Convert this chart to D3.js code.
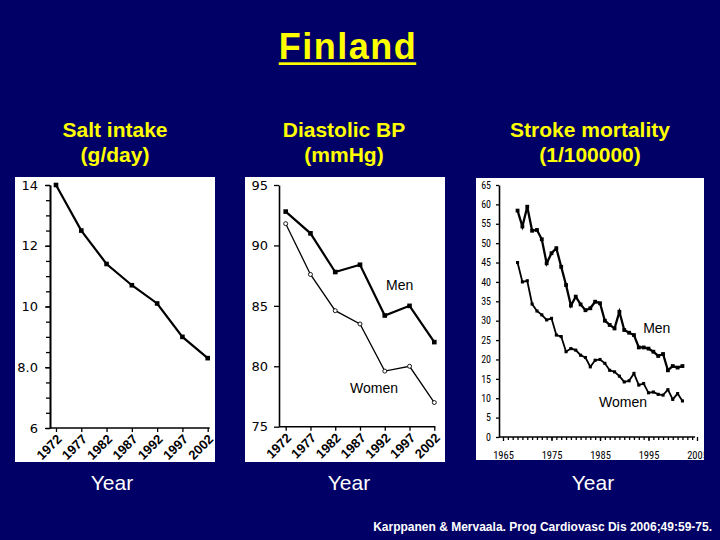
<!DOCTYPE html>
<html><head><meta charset="utf-8">
<script src="https://cdn.jsdelivr.net/npm/d3@7"></script>
<style>html,body{margin:0;padding:0;background:#000066;}svg{display:block;}</style>
</head><body>
<svg id="c" width="720" height="540"></svg>
<script>
// ---------- DATA ----------
const title = "Finland";
const subtitles = [["Salt intake","(g/day)"],["Diastolic BP","(mmHg)"],["Stroke mortality","(1/100000)"]];
const xTitle = "Year";
const citation = "Karppanen & Mervaala. Prog Cardiovasc Dis 2006;49:59-75.";

const years = [1972,1977,1982,1987,1992,1997,2002];
const saltIntake = [14.0,12.5,11.4,10.7,10.1,9.0,8.3];
const saltTicks = [6,8,10,12,14];
const saltTickLabels = ["6","8.0","10","12","14"];

const dbpMen = [92.8,91.0,87.8,88.4,84.2,85.0,82.0];
const dbpWomen = [91.8,87.6,84.6,83.5,79.6,80.0,77.0];
const dbpTicks = [75,80,85,90,95];

const strokeYears = [1968,1969,1970,1971,1972,1973,1974,1975,1976,1977,1978,1979,1980,1981,1982,1983,1984,1985,1986,1987,1988,1989,1990,1991,1992,1993,1994,1995,1996,1997,1998,1999,2000,2001,2002];
const strokeMen = [58.4,54.3,59.4,53.2,53.4,51.0,44.8,47.4,48.7,43.9,39.2,33.9,36.2,34.2,32.7,33.2,34.9,34.5,30.0,28.9,28.0,32.3,27.6,26.9,26.3,23.1,23.1,22.8,22.0,20.9,21.4,17.2,18.3,17.9,18.3];
const strokeWomen = [45.0,40.0,40.3,34.3,32.5,31.5,30.2,30.6,26.3,25.9,22.0,22.8,22.4,21.1,20.5,18.1,19.8,20.0,19.0,17.2,16.8,15.7,14.2,14.5,16.4,13.4,13.8,11.4,11.6,11.0,10.8,12.2,9.7,11.2,9.3];
const strokeTicks = [0,5,10,15,20,25,30,35,40,45,50,55,60,65];
const strokeYearTicks = [1965,1975,1985,1995,2005];
const seriesNames = ["Men","Women"];

// ---------- LAYOUT ----------
const NAVY = "#000066", YELLOW = "#ffff00";
const FONT = "'Liberation Sans', Arial, Helvetica, sans-serif";
const TICKFONT = "'DejaVu Sans', Verdana, sans-serif";
const NARROW = "'Liberation Sans Narrow', 'Arial Narrow', 'Roboto Condensed', sans-serif";

const svg = d3.select("#c");
svg.append("rect").attr("width",720).attr("height",540).attr("fill",NAVY);

// title
const t = svg.append("text").attr("x",348).attr("y",59).attr("text-anchor","middle")
  .attr("font-family",FONT).attr("font-size",36).attr("font-weight","bold")
  .attr("letter-spacing",1.5).attr("fill",YELLOW).text(title);
const tb = t.node().getBBox();
svg.append("rect").attr("x",tb.x).attr("y",62.3).attr("width",tb.width-1).attr("height",2.7).attr("fill",YELLOW);

// subtitles
const subCenters = [115,344,590];
subtitles.forEach((s,i)=>{
  s.forEach((line,j)=>{
    svg.append("text").attr("x",subCenters[i]).attr("y",137+j*24.5).attr("text-anchor","middle")
      .attr("font-family",FONT).attr("font-size",21).attr("font-weight","bold").attr("fill",YELLOW).text(line);
  });
});

// Year labels
[112,349,593].forEach(cx=>{
  svg.append("text").attr("x",cx).attr("y",490).attr("text-anchor","middle")
    .attr("font-family",FONT).attr("font-size",21).attr("fill","#ffffff").text(xTitle);
});

// citation
svg.append("text").attr("x",712).attr("y",531).attr("text-anchor","end")
  .attr("font-family",FONT).attr("font-size",12).attr("font-weight","bold").attr("fill","#ffffff").text(citation);

// panels
const panels = [{x:15,y:177,w:200,h:285},{x:245,y:177,w:200,h:285},{x:476,y:178,w:228,h:282}];
panels.forEach(p=>svg.append("rect").attr("x",p.x).attr("y",p.y).attr("width",p.w).attr("height",p.h).attr("fill","#ffffff"));

function styleAxis(g, font, size, weight){
  g.selectAll("path.domain").attr("stroke","#000").attr("stroke-width",1.6);
  g.selectAll(".tick line").attr("stroke","#000").attr("stroke-width",1.3);
  g.selectAll(".tick text").attr("fill","#000").attr("font-family",font).attr("font-size",size)
    .attr("font-weight",weight||"normal");
}
function rotateLabels(g){
  g.selectAll(".tick text").attr("x",0).attr("y",0).attr("dy",0)
    .attr("text-anchor","end").attr("transform","translate(6,12) rotate(-45)");
}

// ---------- Panel 1: Salt ----------
{
  const g = svg.append("g");
  const x = d3.scaleLinear().domain([1972,2002]).range([56,207.7]);
  const y = d3.scaleLinear().domain([6,14]).range([428,185]);
  const ax = 50;
  g.append("g").attr("transform",`translate(${ax},0)`)
    .call(d3.axisLeft(y).tickValues(d3.range(6,14.01,0.5)).tickFormat("").tickSize(4).tickSizeOuter(0))
    .call(a=>styleAxis(a,TICKFONT,13));
  g.append("g").attr("transform",`translate(${ax},0)`)
    .call(d3.axisLeft(y).tickValues(saltTicks).tickFormat((d,i)=>saltTickLabels[i]).tickSize(5).tickPadding(7).tickSizeOuter(0))
    .call(a=>styleAxis(a,TICKFONT,13));
  const xa = g.append("g").attr("transform",`translate(0,${y(6)})`)
    .call(d3.axisBottom(x).tickValues(years).tickFormat(d3.format("d")).tickSize(4).tickSizeOuter(0))
    .call(a=>styleAxis(a,FONT,13,"bold")).call(rotateLabels);
  xa.select("path.domain").remove();
  g.append("line").attr("x1",ax).attr("x2",x(2002)+2).attr("y1",y(6)).attr("y2",y(6)).attr("stroke","#000").attr("stroke-width",1.6);
  g.append("path").datum(saltIntake).attr("fill","none").attr("stroke","#000").attr("stroke-width",2.2)
    .attr("d",d3.line().x((d,i)=>x(years[i])).y(d=>y(d)));
  g.selectAll("rect.m").data(saltIntake).join("rect").attr("class","m")
    .attr("x",(d,i)=>x(years[i])-2.3).attr("y",d=>y(d)-2.3).attr("width",4.6).attr("height",4.6).attr("fill","#000");
}

// ---------- Panel 2: Diastolic BP ----------
{
  const g = svg.append("g");
  const x = d3.scaleLinear().domain([1972,2002]).range([285.7,434.3]);
  const y = d3.scaleLinear().domain([75,95]).range([426.7,185]);
  const ax = 279;
  g.append("g").attr("transform",`translate(${ax},0)`)
    .call(d3.axisLeft(y).tickValues(dbpTicks).tickFormat(d3.format("d")).tickSize(5).tickPadding(6).tickSizeOuter(0))
    .call(a=>styleAxis(a,TICKFONT,13));
  const xa = g.append("g").attr("transform",`translate(0,${y(75)})`)
    .call(d3.axisBottom(x).tickValues(years).tickFormat(d3.format("d")).tickSize(4).tickSizeOuter(0))
    .call(a=>styleAxis(a,FONT,13,"bold")).call(rotateLabels);
  xa.select("path.domain").remove();
  g.append("line").attr("x1",ax).attr("x2",x(2002)+1).attr("y1",y(75)).attr("y2",y(75)).attr("stroke","#000").attr("stroke-width",1.6);
  const line = d3.line().x((d,i)=>x(years[i])).y(d=>y(d));
  g.append("path").datum(dbpWomen).attr("fill","none").attr("stroke","#000").attr("stroke-width",1.3).attr("d",line);
  g.append("path").datum(dbpMen).attr("fill","none").attr("stroke","#000").attr("stroke-width",2.2).attr("d",line);
  g.selectAll("rect.m").data(dbpMen).join("rect").attr("class","m")
    .attr("x",(d,i)=>x(years[i])-2.3).attr("y",d=>y(d)-2.3).attr("width",4.6).attr("height",4.6).attr("fill","#000");
  g.selectAll("circle.w").data(dbpWomen).join("circle").attr("class","w")
    .attr("cx",(d,i)=>x(years[i])).attr("cy",d=>y(d)).attr("r",2).attr("fill","#fff").attr("stroke","#000").attr("stroke-width",0.9);
  const lab = [[1992.25,86.3],[1985.0,77.8]];
  seriesNames.forEach((n,i)=>g.append("text").attr("x",x(lab[i][0])).attr("y",y(lab[i][1]))
    .attr("font-family",FONT).attr("font-size",14).attr("fill","#000").text(n));
}

// ---------- Panel 3: Stroke mortality ----------
{
  const p = panels[2];
  svg.append("clipPath").attr("id","clip3").append("rect").attr("x",p.x).attr("y",p.y).attr("width",p.w).attr("height",p.h);
  const g = svg.append("g").attr("clip-path","url(#clip3)");
  const x = d3.scaleLinear().domain([1965,2005]).range([503,697]);
  const y = d3.scaleLinear().domain([0,65]).range([437,185]);
  const ax = 499;
  g.append("g").attr("transform",`translate(${ax},0)`)
    .call(d3.axisLeft(y).tickValues(strokeTicks).tickFormat(d3.format("d")).tickSize(3).tickPadding(5).tickSizeOuter(0))
    .call(a=>styleAxis(a,NARROW,10));
  g.append("g").attr("transform",`translate(0,${y(0)})`)
    .call(d3.axisBottom(x).tickValues(d3.range(1966,2005,1)).tickFormat("").tickSize(3).tickSizeOuter(0))
    .call(a=>styleAxis(a,NARROW,10))
    .select("path.domain").remove();
  const xa = g.append("g").attr("transform",`translate(0,${y(0)})`)
    .call(d3.axisBottom(x).tickValues(strokeYearTicks).tickFormat(d3.format("d")).tickSize(4).tickPadding(11).tickSizeOuter(0))
    .call(a=>styleAxis(a,NARROW,10.5));
  xa.select("path.domain").remove();
  g.append("line").attr("x1",ax).attr("x2",x(2004.6)).attr("y1",y(0)).attr("y2",y(0)).attr("stroke","#000").attr("stroke-width",1.6);
  const line = d3.line().x((d,i)=>x(strokeYears[i])).y(d=>y(d));
  [[strokeMen,2.3,3.8],[strokeWomen,1.8,3.1]].forEach(([arr,sw,ms])=>{
    g.append("path").datum(arr).attr("fill","none").attr("stroke","#000").attr("stroke-width",sw).attr("d",line);
    g.append("g").selectAll("rect").data(arr).join("rect")
      .attr("x",(d,i)=>x(strokeYears[i])-ms/2).attr("y",d=>y(d)-ms/2).attr("width",ms).attr("height",ms).attr("fill","#000");
  });
  const lab = [[1993.9,26.8],[1984.8,7.7]];
  seriesNames.forEach((n,i)=>g.append("text").attr("x",x(lab[i][0])).attr("y",y(lab[i][1]))
    .attr("font-family",FONT).attr("font-size",14).attr("fill","#000").text(n));
}
</script>
</body></html>
